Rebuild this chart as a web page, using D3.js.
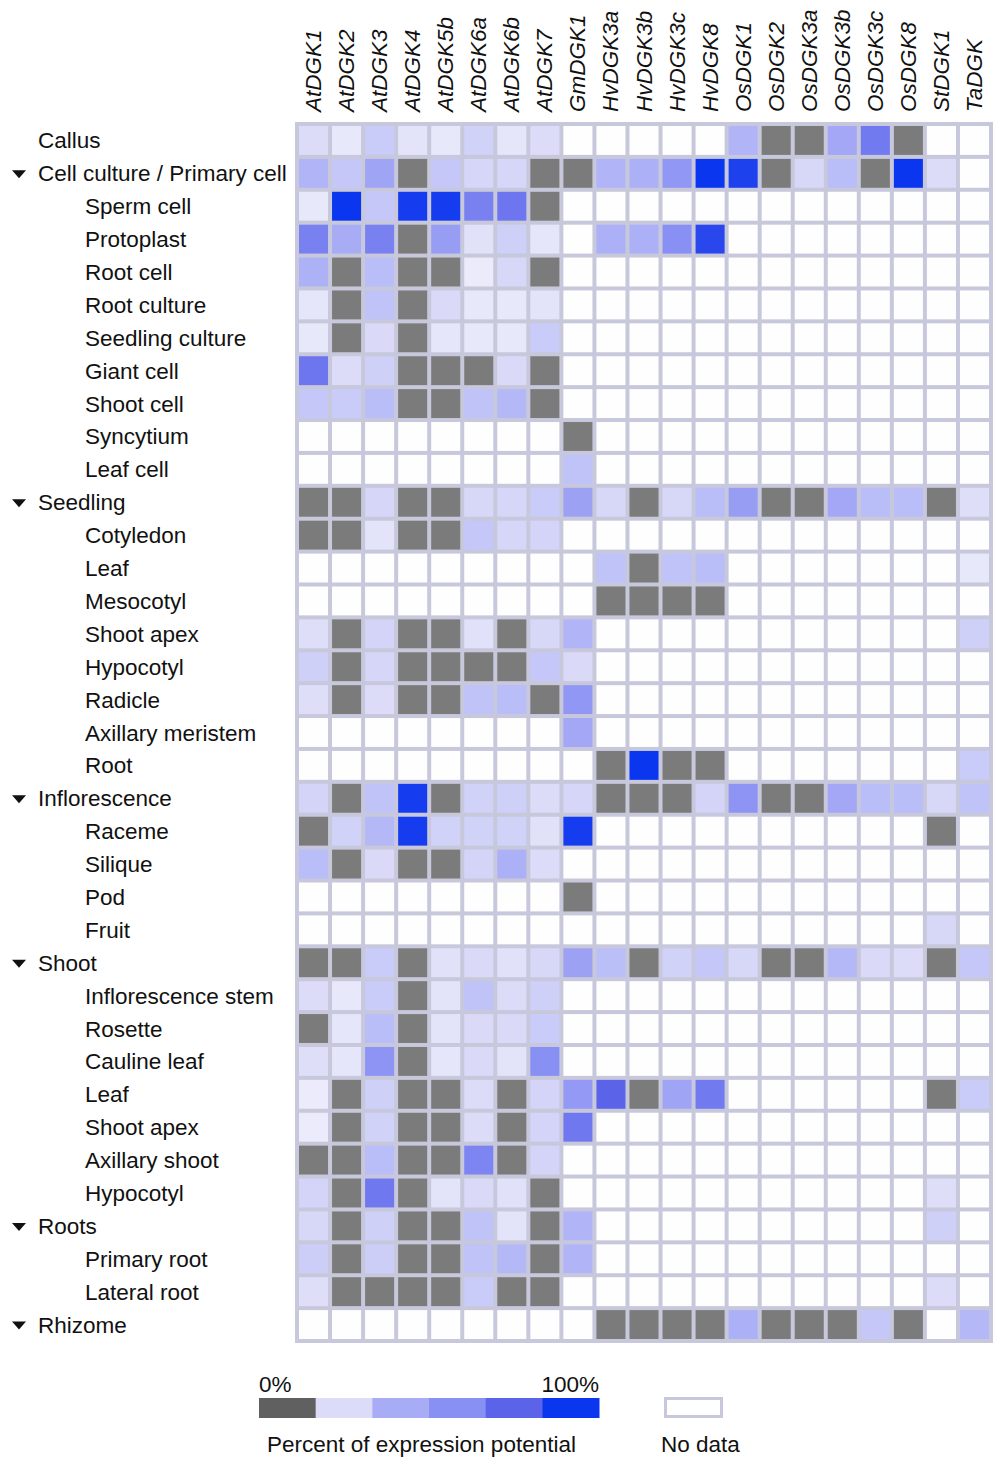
<!DOCTYPE html>
<html>
<head>
<meta charset="utf-8">
<script src="https://cdn.jsdelivr.net/npm/d3@7"></script>
<style>
  body { margin: 0; background: #fff; }
  svg { display: block; font-family: "Liberation Sans", Arial, sans-serif; }
</style>
</head>
<body>
<svg id="chart" width="1000" height="1469"></svg>
<script>
const _ = null; // no data

const genes = ['AtDGK1','AtDGK2','AtDGK3','AtDGK4','AtDGK5b','AtDGK6a','AtDGK6b','AtDGK7','GmDGK1',
  'HvDGK3a','HvDGK3b','HvDGK3c','HvDGK8','OsDGK1','OsDGK2','OsDGK3a','OsDGK3b','OsDGK3c','OsDGK8','StDGK1','TaDGK'];

const tissues = ['Callus','Cell culture / Primary cell','Sperm cell','Protoplast','Root cell','Root culture',
  'Seedling culture','Giant cell','Shoot cell','Syncytium','Leaf cell','Seedling','Cotyledon','Leaf','Mesocotyl',
  'Shoot apex','Hypocotyl','Radicle','Axillary meristem','Root','Inflorescence','Raceme','Silique','Pod','Fruit',
  'Shoot','Inflorescence stem','Rosette','Cauline leaf','Leaf','Shoot apex','Axillary shoot','Hypocotyl',
  'Roots','Primary root','Lateral root','Rhizome'];

// 0 = top level without arrow, 1 = top level group, 2 = child
const levels = [0,1,2,2,2,2,2,2,2,2,2,1,2,2,2,2,2,2,2,2,1,2,2,2,2,1,2,2,2,2,2,2,2,1,2,2,1];

// percent of expression potential (0 = lowest, shown gray), null = no data
const expression = [
  [10,5,18,7,5,15,6,10,_,_,_,_,_,30,0,0,38,65,0,_,_],
  [30,20,40,0,20,13,13,0,0,30,33,50,100,95,0,12,25,0,100,10,_],
  [5,100,20,97,97,62,68,0,_,_,_,_,_,_,_,_,_,_,_,_,_],
  [62,35,62,0,45,8,16,6,_,33,33,55,92,_,_,_,_,_,_,_,_],
  [32,0,25,0,0,4,12,0,_,_,_,_,_,_,_,_,_,_,_,_,_],
  [6,0,22,0,11,5,5,7,_,_,_,_,_,_,_,_,_,_,_,_,_],
  [5,0,11,0,6,5,5,18,_,_,_,_,_,_,_,_,_,_,_,_,_],
  [68,10,16,0,0,0,11,0,_,_,_,_,_,_,_,_,_,_,_,_,_],
  [20,18,25,0,0,22,28,0,_,_,_,_,_,_,_,_,_,_,_,_,_],
  [_,_,_,_,_,_,_,_,0,_,_,_,_,_,_,_,_,_,_,_,_],
  [_,_,_,_,_,_,_,_,22,_,_,_,_,_,_,_,_,_,_,_,_],
  [0,0,13,0,0,12,13,18,42,12,0,12,25,45,0,0,38,25,25,0,9],
  [0,0,7,0,0,20,13,14,_,_,_,_,_,_,_,_,_,_,_,_,_],
  [_,_,_,_,_,_,_,_,_,22,0,22,25,_,_,_,_,_,_,_,5],
  [_,_,_,_,_,_,_,_,_,0,0,0,0,_,_,_,_,_,_,_,_],
  [9,0,14,0,0,8,0,12,30,_,_,_,_,_,_,_,_,_,_,_,16],
  [16,0,13,0,0,0,0,20,11,_,_,_,_,_,_,_,_,_,_,_,_],
  [9,0,10,0,0,22,25,0,50,_,_,_,_,_,_,_,_,_,_,_,_],
  [_,_,_,_,_,_,_,_,38,_,_,_,_,_,_,_,_,_,_,_,_],
  [_,_,_,_,_,_,_,_,_,0,100,0,0,_,_,_,_,_,_,_,18],
  [14,0,22,97,0,15,16,10,13,0,0,0,14,52,0,0,38,25,25,12,22],
  [0,15,28,97,15,15,15,8,97,_,_,_,_,_,_,_,_,_,_,0,_],
  [25,0,11,0,0,14,33,10,_,_,_,_,_,_,_,_,_,_,_,_,_],
  [_,_,_,_,_,_,_,_,0,_,_,_,_,_,_,_,_,_,_,_,_],
  [_,_,_,_,_,_,_,_,_,_,_,_,_,_,_,_,_,_,_,12,_],
  [0,0,18,0,8,11,8,12,42,24,0,15,20,12,0,0,28,11,10,0,20],
  [10,5,18,0,7,22,10,16,_,_,_,_,_,_,_,_,_,_,_,_,_],
  [0,6,25,0,7,11,11,18,_,_,_,_,_,_,_,_,_,_,_,_,_],
  [9,6,52,0,6,11,7,55,_,_,_,_,_,_,_,_,_,_,_,_,_],
  [4,0,16,0,0,10,0,14,48,78,0,40,65,_,_,_,_,_,_,0,18],
  [4,0,15,0,0,10,0,14,66,_,_,_,_,_,_,_,_,_,_,_,_],
  [0,0,25,0,0,60,0,14,_,_,_,_,_,_,_,_,_,_,_,_,_],
  [14,0,66,0,7,11,8,0,_,_,_,_,_,_,_,_,_,_,_,9,_],
  [12,0,16,0,0,22,7,0,30,_,_,_,_,_,_,_,_,_,_,16,_],
  [17,0,17,0,0,22,28,0,30,_,_,_,_,_,_,_,_,_,_,_,_],
  [9,0,0,0,0,18,0,0,_,_,_,_,_,_,_,_,_,_,_,10,_],
  [_,_,_,_,_,_,_,_,_,0,0,0,0,33,0,0,0,20,0,_,28]
];

const legendSteps = [0, 10, 35, 55, 78, 100];

// ---- scales ----
const x = d3.scaleBand().domain(d3.range(genes.length)).range([297, 991]);
const y = d3.scaleBand().domain(d3.range(tissues.length)).range([124, 1341]);

const blue = d3.scaleLinear()
  .domain([1, 10, 25, 40, 55, 66, 80, 100])
  .range(['#f2f2fd', '#dcdcf8', '#b9bdf8', '#a0a4f4', '#8890f4', '#7078f0', '#5860e8', '#0a36f0'])
  .clamp(true);

const GRAY = '#7b7b7b';
const FS = 22.5;
const cellColor = v => v === null ? '#fefefe' : (v === 0 ? GRAY : blue(v));

const svg = d3.select('#chart');

// grid background (acts as the lines)
svg.append('rect')
  .attr('x', x.range()[0] - 2).attr('y', y.range()[0] - 2)
  .attr('width', x.range()[1] - x.range()[0] + 4)
  .attr('height', y.range()[1] - y.range()[0] + 4)
  .attr('fill', '#c8c8dc');

const cells = [];
expression.forEach((row, r) => row.forEach((v, c) => cells.push({ r, c, v })));

svg.append('g').selectAll('rect')
  .data(cells)
  .join('rect')
  .attr('x', d => x(d.c) + 2)
  .attr('y', d => y(d.r) + 2)
  .attr('width', x.bandwidth() - 4)
  .attr('height', y.bandwidth() - 4)
  .attr('fill', d => cellColor(d.v));

// column labels
svg.append('g').selectAll('text')
  .data(genes)
  .join('text')
  .attr('transform', (d, i) => `translate(${x(i) + x.bandwidth() / 2 + 7.5},112) rotate(-90)`)
  .attr('font-size', FS)
  .attr('font-style', 'italic')
  .attr('fill', '#111')
  .text(d => d);

// row labels
const rowG = svg.append('g');
rowG.selectAll('text')
  .data(tissues)
  .join('text')
  .attr('x', (d, i) => levels[i] === 2 ? 85 : 38)
  .attr('y', (d, i) => y(i) + y.bandwidth() / 2 + 8)
  .attr('font-size', FS)
  .attr('fill', '#111')
  .text(d => d);

rowG.selectAll('path')
  .data(d3.range(tissues.length).filter(i => levels[i] === 1))
  .join('path')
  .attr('d', i => {
    const c = y(i) + y.bandwidth() / 2;
    return `M12,${c - 3}L26,${c - 3}L19,${c + 5}Z`;
  })
  .attr('fill', '#111');

// legend
const lx = d3.scaleBand().domain(d3.range(legendSteps.length)).range([259, 599]);
const leg = svg.append('g');
leg.selectAll('rect')
  .data(legendSteps)
  .join('rect')
  .attr('x', (d, i) => lx(i))
  .attr('y', 1398)
  .attr('width', lx.bandwidth() + 0.5)
  .attr('height', 20)
  .attr('fill', d => d === 0 ? '#606060' : blue(d));

leg.append('text').attr('x', 259).attr('y', 1392).attr('font-size', FS).attr('fill', '#111').text('0%');
leg.append('text').attr('x', 599).attr('y', 1392).attr('font-size', FS).attr('fill', '#111')
  .attr('text-anchor', 'end').text('100%');
leg.append('text').attr('x', 267).attr('y', 1452).attr('font-size', FS).attr('fill', '#111')
  .text('Percent of expression potential');

leg.append('rect')
  .attr('x', 665.5).attr('y', 1398.5).attr('width', 56).attr('height', 18)
  .attr('fill', '#fff').attr('stroke', '#c8c8dc').attr('stroke-width', 3);
leg.append('text').attr('x', 661).attr('y', 1452).attr('font-size', FS).attr('fill', '#111').text('No data');
</script>
</body>
</html>
